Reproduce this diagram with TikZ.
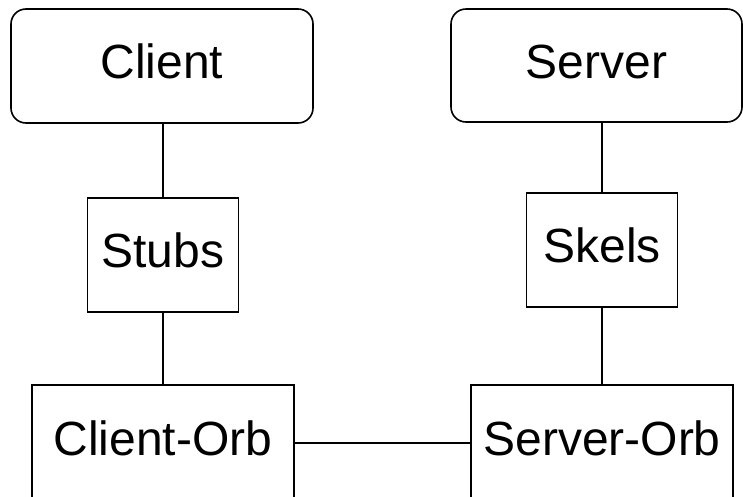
\documentclass[tikz,border=0pt]{standalone}
\usepackage{fontspec}
\setmainfont{Liberation Sans}

\begin{document}
\begin{tikzpicture}[x=1pt,y=-1pt,line width=1.6pt,
  every node/.style={draw,font=\fontsize{48}{58}\selectfont,text height=34.6pt,text depth=9.6pt,inner sep=0pt},
  box/.style={rectangle},
  rbox/.style={rectangle,rounded corners=15pt}]
  \useasboundingbox (0,0) rectangle (743,496);
  \node[rbox,minimum width=302pt,minimum height=114pt] (client) at (162,66) {Client};
  \node[rbox,minimum width=291pt,minimum height=113pt] (server) at (596.5,65.5) {Server};
  \node[box,minimum width=151pt,minimum height=114pt] (stubs) at (163,255) {Stubs};
  \node[box,minimum width=151pt,minimum height=114pt] (skels) at (602,250) {Skels};
  \node[box,minimum width=262pt,minimum height=116pt] (clientorb) at (163,443) {Client-Orb};
  \node[box,minimum width=262pt,minimum height=116pt] (serverorb) at (602,443) {Server-Orb};
  \draw (client.south -| stubs) -- (stubs);
  \draw (stubs) -- (clientorb);
  \draw (server.south -| skels) -- (skels);
  \draw (skels) -- (serverorb);
  \draw (clientorb) -- (serverorb);
\end{tikzpicture}
\end{document}
